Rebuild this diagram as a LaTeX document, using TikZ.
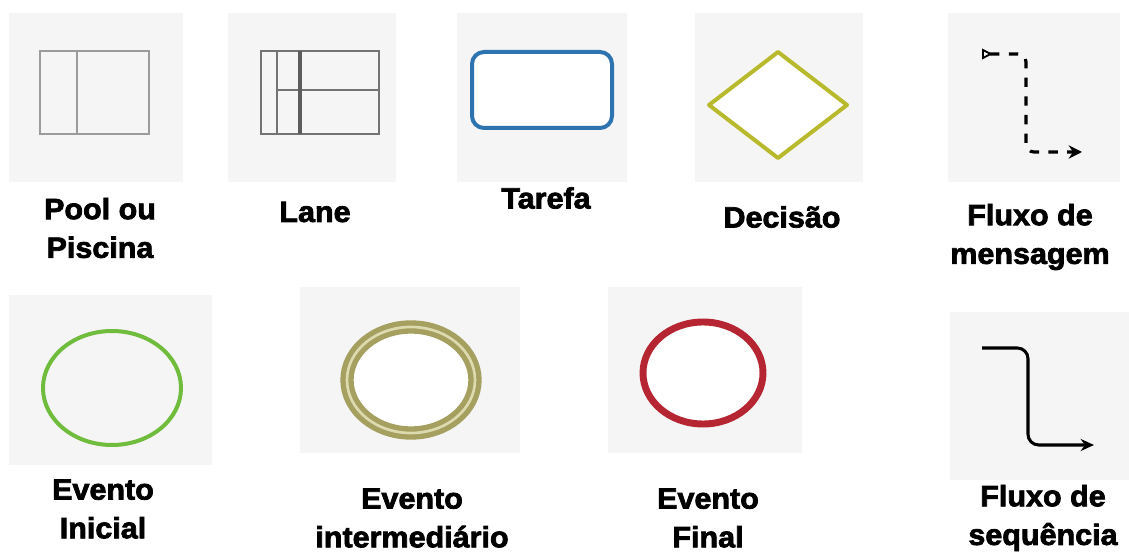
\documentclass[tikz,border=0pt]{standalone}
\usepackage{fontspec}
\setmainfont{Liberation Sans}
\newfontfamily\lblfont{Liberation Sans Bold}[FakeBold=2.5,FakeStretch=1.04]
\usetikzlibrary{shapes.geometric,arrows.meta,positioning}
\definecolor{tileGray}{RGB}{245,245,245}
\definecolor{poolGray}{RGB}{155,155,155}
\definecolor{laneGray}{RGB}{115,115,115}
\definecolor{tarefaBlue}{RGB}{45,115,175}
\definecolor{decisaoOlive}{RGB}{185,185,45}
\definecolor{inicialGreen}{RGB}{112,188,60}
\definecolor{interKhaki}{RGB}{165,160,95}
\definecolor{interPale}{RGB}{222,218,175}
\definecolor{finalRed}{RGB}{182,38,50}
\tikzset{
  tile/.style={fill=tileGray},
  lbl/.style={font=\lblfont\fontsize{22}{29}\selectfont, align=center, inner sep=0pt},
  poolline/.style={draw=poolGray, line width=2.2pt},
  msgflow/.style={line width=2.4pt, dash pattern=on 7pt off 7pt, rounded corners=6pt,
    {Triangle[open,reversed,length=8pt,width=8pt,line width=1.4pt]}-{Stealth[length=10pt,width=10pt]}},
  seqflow/.style={line width=2.3pt, rounded corners=8pt, -{Stealth[length=10pt,width=9pt]}}
}
\begin{document}
\begin{tikzpicture}[x=0.75pt, y=-0.75pt]
  \useasboundingbox[fill=white] (0,0) rectangle (1129,552);

  \fill[tile] (9,13) rectangle (183,182);
  \draw[poolline] (40,51) rectangle (149,134) (77,51) -- (77,134);
  \node[lbl] (poolLbl) at (100,228) {Pool ou\\Piscina};

  \fill[tile] (228,13) rectangle (396,182);
  \draw[poolline, draw=laneGray] (261,51) rectangle (379,134) (277,51) -- (277,134) (277,90) -- (379,90);
  \draw[poolline, draw=laneGray!80!black, line width=2.6pt] (300,51) -- (300,134);
  \node[lbl] (laneLbl) at (315,212) {Lane};

  \fill[tile] (457,13) rectangle (627,182);
  \draw[tarefaBlue, fill=white, line width=3pt, rounded corners=9pt] (472,52) rectangle (612,128);
  \node[lbl] (tarefaLbl) at (546,198) {Tarefa};

  \fill[tile] (695,13) rectangle (863,182);
  \draw[decisaoOlive, fill=white, line width=3pt, line join=round] (709,105) -- (778,52) -- (847,105) -- (778,158) -- cycle;
  \node[lbl] (decisaoLbl) at (782,217) {Decisão};

  \fill[tile] (948,13) rectangle (1120,182);
  \coordinate (msgA) at (982,54);
  \coordinate (msgM) at (1026,100);
  \coordinate (msgB) at (1082,152);
  \draw[msgflow] (msgA) -| (msgM) |- (msgB);
  \node[lbl] (msgLbl) at (1030,237) {Fluxo de\\mensagem};

  \fill[tile] (9,295) rectangle (212,465);
  \draw[inicialGreen, line width=3pt] (112,388) ellipse [x radius=69, y radius=57];
  \node[lbl] (inicialLbl) at (103,509) {Evento\\Inicial};

  \fill[tile] (300,287) rectangle (520,453);
  \draw[interKhaki, fill=white, line width=10pt] (411,380) ellipse [x radius=64, y radius=53];
  \draw[interPale, line width=2pt] (411,380) ellipse [x radius=64, y radius=53];
  \node[lbl] (interLbl) at (412,518) {Evento\\intermediário};

  \fill[tile] (608,287) rectangle (802,453);
  \draw[finalRed, fill=white, line width=5.2pt] (703,373) ellipse [x radius=60, y radius=51];
  \node[lbl] (finalLbl) at (708,518) {Evento\\Final};

  \fill[tile] (950,312) rectangle (1129,480);
  \coordinate (seqA) at (982,348);
  \coordinate (seqM) at (1028,400);
  \coordinate (seqB) at (1094,445);
  \draw[seqflow] (seqA) -| (seqM) |- (seqB);
  \node[lbl] (seqLbl) at (1043,518) {Fluxo de\\sequência};
\end{tikzpicture}
\end{document}
